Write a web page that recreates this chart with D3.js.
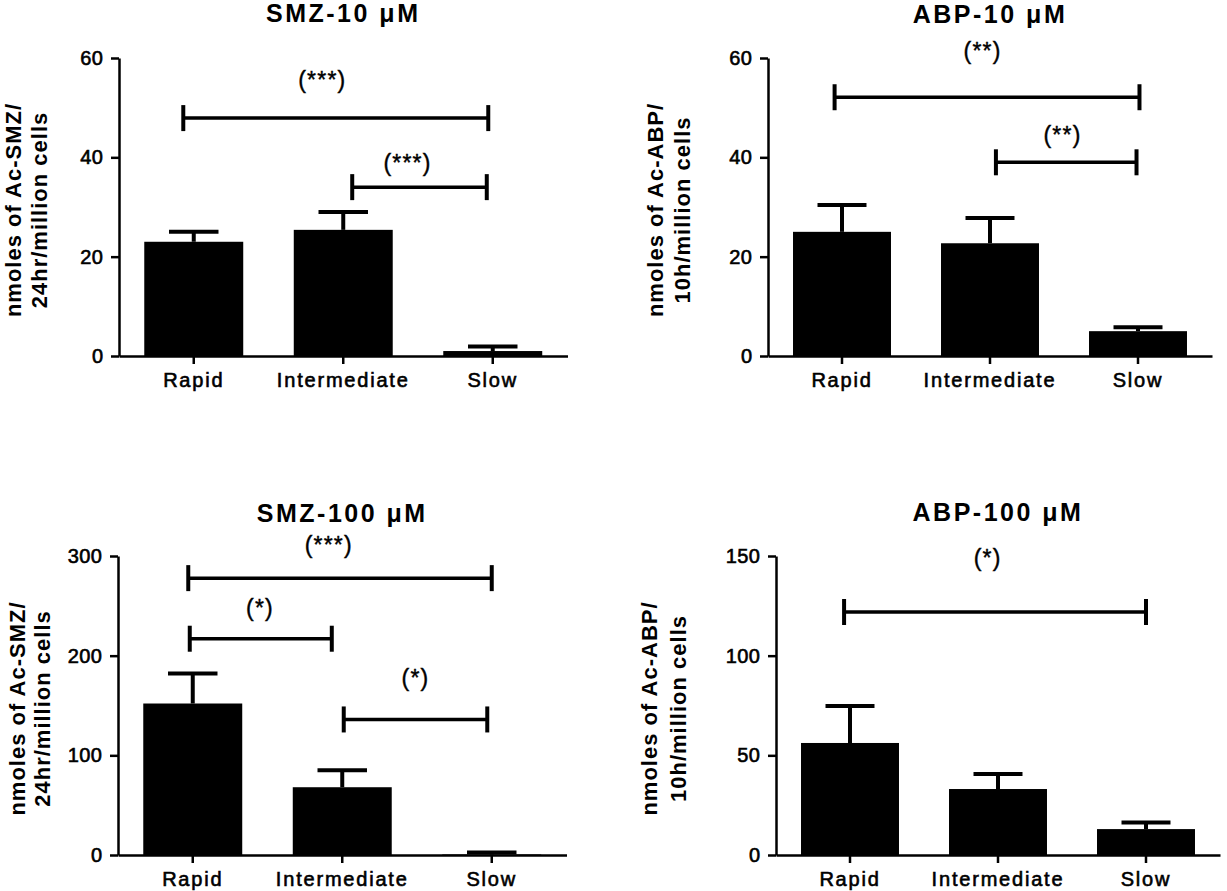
<!DOCTYPE html>
<html><head><meta charset="utf-8">
<script src="https://cdn.jsdelivr.net/npm/d3@7"></script>
<style>
body{margin:0;background:#fff;}
svg{display:block;font-family:"Liberation Sans",Arial,sans-serif;}
</style>
</head><body>
<svg id="chart" width="1227" height="891"></svg>
<script>
// ---- data ----
const categories = ["Rapid", "Intermediate", "Slow"];

const smz10Means  = [23.0, 25.4, 1.0];
const smz10Errors = [2.0, 3.6, 0.9];
const abp10Means  = [25.0, 22.7, 5.0];
const abp10Errors = [5.4, 5.1, 0.8];
const smz100Means  = [152, 68, 0.5];
const smz100Errors = [30, 17, 2];
const abp100Means  = [56.2, 33.1, 13.0];
const abp100Errors = [18.6, 7.5, 3.3];

const ticks10     = [0, 20, 40, 60];
const ticksSmz100 = [0, 100, 200, 300];
const ticksAbp100 = [0, 50, 100, 150];

// significance brackets: x in category-index units (0 = Rapid), y in data units
const smz10Brackets = [
  {x1: -0.07, x2: 1.97, y: 47.9, label: "(***)", lx: 0.86, ly: 55.2},
  {x1: 1.06,  x2: 1.96, y: 34.0, label: "(***)", lx: 1.43, ly: 38.5}
];
const abp10Brackets = [
  {x1: -0.05, x2: 2.01, y: 52.1, label: "(**)", lx: 0.95, ly: 61.0},
  {x1: 1.04,  x2: 1.99, y: 39.0, label: "(**)", lx: 1.49, ly: 44.1}
];
const smz100Brackets = [
  {x1: -0.03, x2: 2.00, y: 277.8, label: "(***)", lx: 0.91, ly: 309},
  {x1: -0.02, x2: 0.93, y: 217.0, label: "(*)",   lx: 0.45, ly: 246},
  {x1: 1.01,  x2: 1.97, y: 136.0, label: "(*)",   lx: 1.49, ly: 175.5}
];
const abp100Brackets = [
  {x1: -0.04, x2: 2.00, y: 121.9, label: "(*)", lx: 0.93, ly: 148}
];

const titles = ["SMZ-10 \u03bcM", "ABP-10 \u03bcM", "SMZ-100 \u03bcM", "ABP-100 \u03bcM"];
const yLabelsSMZ = ["nmoles of Ac-SMZ/", "24hr/million cells"];
const yLabelsABP = ["nmoles of Ac-ABP/", "10h/million cells"];

// ---- layout (positions only) ----
const layouts = [
  {x0: 119, x1: 567.5, yTop: 58,  yBottom: 356, titleY: 22,  labelX: [21, 47]},
  {x0: 768, x1: 1212,  yTop: 58,  yBottom: 356, titleY: 23,  labelX: [663, 690]},
  {x0: 118, x1: 566.5, yTop: 556, yBottom: 855, titleY: 522, labelX: [25, 50]},
  {x0: 776, x1: 1220,  yTop: 556, yBottom: 855, titleY: 521, labelX: [657, 686]}
];

const panels = [
  {title: titles[0], means: smz10Means,  errors: smz10Errors,  ticks: ticks10,     brackets: smz10Brackets,  yLabel: yLabelsSMZ, layout: layouts[0]},
  {title: titles[1], means: abp10Means,  errors: abp10Errors,  ticks: ticks10,     brackets: abp10Brackets,  yLabel: yLabelsABP, layout: layouts[1]},
  {title: titles[2], means: smz100Means, errors: smz100Errors, ticks: ticksSmz100, brackets: smz100Brackets, yLabel: yLabelsSMZ, layout: layouts[2]},
  {title: titles[3], means: abp100Means, errors: abp100Errors, ticks: ticksAbp100, brackets: abp100Brackets, yLabel: yLabelsABP, layout: layouts[3]}
];

const svg = d3.select("#chart");

panels.forEach(p => {
  const L = p.layout;
  const g = svg.append("g");

  const x = d3.scaleBand().domain(categories).range([L.x0, L.x1])
    .paddingInner(0.338).paddingOuter(0.169);
  const y = d3.scaleLinear().domain([0, p.ticks[p.ticks.length - 1]]).range([L.yBottom, L.yTop]);
  const bw = x.bandwidth();
  const xi = d3.scaleLinear().domain([0, 2])
    .range([x(categories[0]) + bw / 2, x(categories[2]) + bw / 2]);

  const rows = categories.map((c, i) => ({c, v: p.means[i], e: p.errors[i]}));

  // bars
  g.selectAll("rect.bar").data(rows).join("rect")
    .attr("class", "bar")
    .attr("x", d => x(d.c))
    .attr("width", bw)
    .attr("y", d => y(d.v))
    .attr("height", d => y(0) - y(d.v))
    .attr("fill", "#000");

  // error bars (upper only)
  g.selectAll("line.stem").data(rows).join("line")
    .attr("x1", d => x(d.c) + bw / 2).attr("x2", d => x(d.c) + bw / 2)
    .attr("y1", d => y(d.v)).attr("y2", d => y(d.v + d.e))
    .attr("stroke", "#000").attr("stroke-width", 4);
  g.selectAll("line.cap").data(rows).join("line")
    .attr("x1", d => x(d.c) + bw / 2 - bw * 0.25).attr("x2", d => x(d.c) + bw / 2 + bw * 0.25)
    .attr("y1", d => y(d.v + d.e)).attr("y2", d => y(d.v + d.e))
    .attr("stroke", "#000").attr("stroke-width", 4);

  // axes
  const yAxis = g.append("g").attr("transform", `translate(${L.x0},0)`)
    .call(d3.axisLeft(y).tickValues(p.ticks).tickSize(8).tickSizeOuter(0).tickPadding(7.5));
  const xAxis = g.append("g").attr("transform", `translate(0,${L.yBottom})`)
    .call(d3.axisBottom(x).tickSize(8).tickSizeOuter(0).tickPadding(9));

  [yAxis, xAxis].forEach(a => {
    a.select(".domain").attr("stroke", "#000").attr("stroke-width", 2.5);
    a.selectAll(".tick line").attr("stroke", "#000").attr("stroke-width", 2.5);
    a.selectAll(".tick text").attr("fill", "#000")
      .attr("stroke", "#000").attr("stroke-width", 0.6)
      .style("font-family", "'Liberation Sans', Arial, sans-serif");
  });
  yAxis.selectAll(".tick text").style("font-size", "20px").style("letter-spacing", "0.5px");
  xAxis.selectAll(".tick text").style("font-size", "20px").style("letter-spacing", "1.8px");

  // significance brackets
  p.brackets.forEach(b => {
    const yy = y(b.y);
    g.append("line")
      .attr("x1", xi(b.x1)).attr("x2", xi(b.x2)).attr("y1", yy).attr("y2", yy)
      .attr("stroke", "#000").attr("stroke-width", 3.5);
    [b.x1, b.x2].forEach(xv => {
      g.append("line")
        .attr("x1", xi(xv)).attr("x2", xi(xv)).attr("y1", yy - 13).attr("y2", yy + 13)
        .attr("stroke", "#000").attr("stroke-width", 4);
    });
    g.append("text")
      .attr("x", xi(b.lx)).attr("y", y(b.ly)).attr("dy", "0.26em")
      .attr("text-anchor", "middle")
      .attr("stroke", "#000").attr("stroke-width", 0.4)
      .style("font-size", "23px").style("letter-spacing", "1.2px")
      .text(b.label);
  });

  // title
  g.append("text")
    .attr("x", (L.x0 + L.x1) / 2).attr("y", L.titleY)
    .attr("text-anchor", "middle")
    .style("font-size", "25px").style("font-weight", "bold").style("letter-spacing", "2.5px")
    .text(p.title);

  // y label (two lines, rotated)
  const yc = (L.yTop + L.yBottom) / 2 + 3;
  p.yLabel.forEach((t, i) => {
    g.append("text")
      .attr("transform", `translate(${L.labelX[i]},${yc}) rotate(-90)`)
      .attr("text-anchor", "middle")
      .style("font-size", "22px").style("font-weight", "bold").style("letter-spacing", "1px")
      .text(t);
  });
});
</script>
</body></html>
